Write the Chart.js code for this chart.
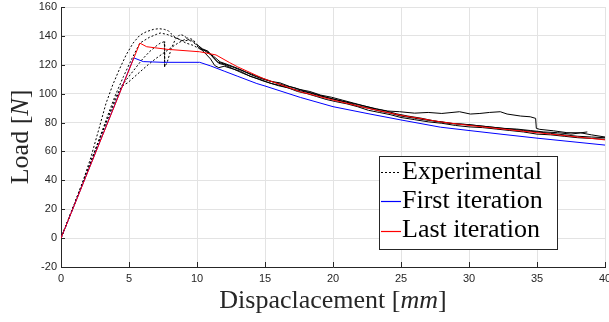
<!DOCTYPE html>
<html>
<head>
<meta charset="utf-8">
<script src="https://cdn.jsdelivr.net/npm/chart.js@4.4.0/dist/chart.umd.min.js"></script>
<style>
  html, body { margin: 0; padding: 0; background: #fff; }
  #wrap { width: 609px; height: 322px; }
</style>
</head>
<body>
<div id="wrap"><canvas id="loadChart" width="609" height="322"></canvas></div>
<script>
// tick values
const xTickValues = [0, 5, 10, 15, 20, 25, 30, 35, 40]
const yTickValues = [-20, 0, 20, 40, 60, 80, 100, 120, 140, 160]

// first iteration (blue)
const firstDisp = [0, 5.35, 6.05, 7.5, 10.2, 11, 12, 13, 14.4, 15, 17.6, 20, 22.5, 25, 27.9, 30, 32.5, 35, 37.5, 40]
const firstLoad = [0, 124.8, 122.2, 121.7, 121.7, 119.2, 115.6, 112, 107, 105.3, 97.4, 91, 86.3, 81.8, 76.8, 74.5, 71.8, 69.2, 66.8, 64.4]

// last iteration (red)
const lastDisp = [0, 5.8, 6.3, 7.8, 10.2, 11.4, 12.4, 13, 14.85, 17.6, 20, 22.5, 25, 27.9, 30, 32.5, 35, 37.5, 40]
const lastLoad = [0, 135, 132.5, 130.7, 129, 126.8, 121.5, 118.5, 110.6, 101.3, 95.6, 90, 85, 80.5, 78, 75.5, 73, 70.5, 68]

// experimental specimens (black dotted)
const exp1Disp = [0, 0.8, 1.6, 2.2, 2.8, 3.3, 3.8, 4.3, 4.8, 5.3, 5.8, 6.3, 6.8, 7.2, 7.6, 7.9, 8.1, 8.4, 8.8, 9.2, 9.7, 10.2, 10.7, 11.2, 11.7, 12.3, 13, 13.6, 14.3, 15, 15.8, 16.5, 17.2, 18, 18.8, 19.5, 20.3, 21, 21.8, 22.6, 23.4, 24.2, 25, 26, 27, 28, 29, 30, 31, 32, 33, 34, 35, 36, 37, 38, 39, 40]
const exp1Load = [0, 19, 39, 56, 76, 93, 106, 117, 127, 135, 140.5, 143, 144.5, 145, 144.5, 143.5, 141.5, 139, 137, 135, 133.5, 131, 129.5, 126, 122, 120, 117.5, 115, 112.5, 110, 107.5, 105.5, 104, 101.5, 99.5, 97.5, 95.5, 94, 91.5, 90, 88, 86.5, 84.5, 83, 81.5, 80.5, 79, 78.5, 77.5, 76.5, 75.5, 74.5, 73.5, 72.5, 71.5, 70.5, 70, 69.5]

const exp2Disp = [0, 1, 2, 2.8, 3.4, 4, 4.6, 5.2, 5.8, 6.5, 7, 7.3, 7.8, 8.2, 8.6, 9, 9.4, 9.8, 10.2, 10.6, 11, 11.5, 12, 12.6, 13.3, 14, 14.7, 15.4, 16.1, 16.8, 17.5, 18.3, 19.1, 19.9, 20.7, 21.5, 22.3, 23.1, 23.9, 24.7, 25.5, 26.5, 27.5, 28.5, 29.5, 30.5, 31.5, 32.5, 33.5, 34.5, 35.5, 36.5, 37.5, 38.7]
const exp2Load = [0, 24, 48, 68, 84, 99, 112, 124, 135, 139, 141, 142, 141, 139.5, 138, 136.5, 137, 135.5, 132, 129.5, 127, 122, 120.5, 118.5, 116, 113, 110.5, 108.5, 107.5, 105, 103, 101.5, 99, 97.5, 95.5, 93.5, 91.5, 89.5, 88, 86, 84.5, 83, 81, 79.5, 79, 78, 77, 76, 75.5, 74.5, 73.5, 73, 72, 73.5]

const exp3Disp = [0, 1, 2, 3, 4, 4.5, 5, 5.5, 6, 6.5, 7, 7.3, 7.6, 7.62, 7.8, 8.1, 8.4, 8.75, 9.1, 9.3, 9.6, 10, 10.5, 11, 11.3, 11.6, 12, 12.5, 13.2, 13.9, 14.6, 15.3, 16, 16.7, 17.4, 18.1, 18.8, 19.5, 20.2, 21, 21.8, 22.6, 23.4, 24.2, 25, 26, 27, 28, 29, 30, 31, 32, 33, 34, 35, 36, 37, 38, 39, 40]
const exp3Load = [0, 23.5, 47.5, 72, 97, 106, 112, 118, 124, 129, 133, 135, 136, 118.5, 121.5, 131, 137.5, 141, 140, 137.5, 137, 133, 129, 124, 119.5, 118, 119, 117.5, 115.5, 112, 110, 107.5, 105.5, 104, 101.5, 100, 98, 96, 94.5, 93, 91, 88.5, 87, 85.5, 83.5, 82, 80.5, 79.5, 78, 77, 76.5, 75.5, 74.5, 73.5, 72, 71.5, 70.5, 69.5, 69, 68.5]

const exp4Disp = [0, 1, 2, 3, 4.3, 4.6, 4.9, 5.2, 5.8, 6.4, 7, 7.6, 8.2, 8.6, 9, 9.3, 9.7, 10, 10.4, 10.8, 11.2, 11.6, 12, 12.7, 13.4, 14.1, 14.8, 15.5, 16.2, 16.9, 17.6, 18.3, 19, 19.7, 20.4, 21.1, 21.8, 22.5, 23.2, 24, 24.9, 26, 27, 28, 29.3, 30.1, 30.8, 31.5, 32.3, 32.8, 33.8, 34.5, 34.9, 34.95, 35.2, 36.2, 37.2, 38.2, 39, 40]
const exp4Load = [0, 24, 48.5, 73, 102, 106, 107.5, 110, 115, 120, 124.5, 128.5, 132.5, 135, 137, 138.5, 137.5, 134, 131, 129.5, 125, 121, 120, 117, 114, 111.5, 109, 107, 105.5, 103.5, 102, 100.5, 98.5, 97, 95.5, 94, 92.5, 91, 89.5, 88, 87.5, 86.5, 87, 86.3, 87.5, 85.9, 86.3, 87, 87.5, 85.9, 84.5, 84, 82.9, 76, 75.3, 74.3, 73, 72.9, 71.5, 70]

const legendLabels = ['Experimental', 'First iteration', 'Last iteration']

const AXIS_COLOR = '#262626'
const SERIF = '"Liberation Serif", "Times New Roman", serif'

function toPoints(xs, ys) {
  return xs.map((x, i) => ({ x: x, y: ys[i] }))
}

function expDataset(xs, ys) {
  return {
    data: toPoints(xs, ys),
    borderColor: '#000',
    borderWidth: 1,
    borderDash: [],
    pointRadius: 0,
    tension: 0,
    // dotted on the loading part, dense noisy data looks solid later on
    segment: {
      borderDash: c => (c.p0.parsed.x < 10 ? [2, 2] : undefined)
    }
  }
}

// draws text pieces with mixed upright / italic fonts, centred on x=0
function drawMixed(ctx, parts, size) {
  let total = 0
  parts.forEach(p => {
    ctx.font = (p.italic ? 'italic ' : '') + size + 'px ' + SERIF
    p.w = ctx.measureText(p.text).width
    total += p.w
  })
  let x = -total / 2
  parts.forEach(p => {
    ctx.font = (p.italic ? 'italic ' : '') + size + 'px ' + SERIF
    ctx.fillText(p.text, x, 0)
    x += p.w
  })
}

const decorations = {
  id: 'decorations',
  afterDatasetsDraw(chart) {
    const ctx = chart.ctx
    const xs = chart.scales.x
    const ys = chart.scales.y
    const area = chart.chartArea

    // inward tick marks
    ctx.save()
    ctx.strokeStyle = AXIS_COLOR
    ctx.lineWidth = 1
    ctx.beginPath()
    xTickValues.forEach(v => {
      const px = Math.round(xs.getPixelForValue(v)) + 0.5
      ctx.moveTo(px, area.bottom)
      ctx.lineTo(px, area.bottom - 5)
    })
    yTickValues.forEach(v => {
      const py = Math.round(ys.getPixelForValue(v)) + 0.5
      ctx.moveTo(area.left, py)
      ctx.lineTo(area.left + 4, py)
    })
    ctx.stroke()
    ctx.restore()

    // legend box
    const box = { left: 379.5, top: 156.5, width: 178, height: 93 }
    ctx.save()
    ctx.fillStyle = '#fff'
    ctx.fillRect(box.left, box.top, box.width, box.height)
    ctx.strokeStyle = AXIS_COLOR
    ctx.lineWidth = 1
    ctx.strokeRect(box.left, box.top, box.width, box.height)

    const sampleStyles = [
      { color: '#000000', dash: [2, 2] },
      { color: '#0000ff', dash: [] },
      { color: '#ff0000', dash: [] }
    ]
    const baselines = [178.5, 207.5, 237]
    ctx.font = '26px ' + SERIF
    ctx.textBaseline = 'alphabetic'
    legendLabels.forEach((label, i) => {
      const yMid = Math.round(baselines[i] - 6.5) + 0.5
      ctx.save()
      ctx.lineWidth = 1.2
      ctx.strokeStyle = sampleStyles[i].color
      ctx.setLineDash(sampleStyles[i].dash)
      ctx.beginPath()
      ctx.moveTo(381, yMid)
      ctx.lineTo(401, yMid)
      ctx.stroke()
      ctx.restore()
      ctx.fillStyle = '#000'
      ctx.fillText(label, 402, baselines[i])
    })
    ctx.restore()

    // axis titles
    ctx.save()
    ctx.fillStyle = AXIS_COLOR
    ctx.textBaseline = 'alphabetic'
    ctx.translate((area.left + area.right) / 2, 308)
    drawMixed(ctx, [
      { text: 'Dispaclacement [', italic: false },
      { text: 'mm', italic: true },
      { text: ']', italic: false }
    ], 26)
    ctx.restore()

    ctx.save()
    ctx.fillStyle = AXIS_COLOR
    ctx.textBaseline = 'alphabetic'
    ctx.translate(28, (area.top + area.bottom) / 2)
    ctx.rotate(-Math.PI / 2)
    drawMixed(ctx, [
      { text: 'Load [', italic: false },
      { text: 'N', italic: true },
      { text: ']', italic: false }
    ], 26)
    ctx.restore()
  }
}

function fixScale(scale, size, horizontal) {
  if (horizontal) scale.height = size
  else scale.width = size
  scale.paddingLeft = 0
  scale.paddingRight = 0
  scale.paddingTop = 0
  scale.paddingBottom = 0
}

const tickFont = { family: '"Liberation Sans", Arial, Helvetica, sans-serif', size: 11 }

new Chart(document.getElementById('loadChart'), {
  type: 'line',
  data: {
    datasets: [
      {
        data: toPoints(lastDisp, lastLoad),
        borderColor: '#ff0000',
        borderWidth: 1,
        pointRadius: 0,
        tension: 0
      },
      {
        data: toPoints(firstDisp, firstLoad),
        borderColor: '#0000ff',
        borderWidth: 1,
        pointRadius: 0,
        tension: 0
      },
      expDataset(exp1Disp, exp1Load),
      expDataset(exp2Disp, exp2Load),
      expDataset(exp3Disp, exp3Load),
      expDataset(exp4Disp, exp4Load)
    ]
  },
  options: {
    responsive: false,
    animation: false,
    devicePixelRatio: 1,
    layout: { padding: { left: 0, top: 7, right: 4, bottom: 0 } },
    plugins: {
      legend: { display: false },
      tooltip: { enabled: false }
    },
    scales: {
      x: {
        type: 'linear',
        min: 0,
        max: 40,
        afterBuildTicks: s => { s.ticks = xTickValues.map(v => ({ value: v })) },
        afterFit: s => fixScale(s, 55, true),
        grid: { color: '#e3e3e3', lineWidth: 1, drawTicks: false },
        border: { color: AXIS_COLOR, width: 1 },
        ticks: { font: tickFont, color: AXIS_COLOR, padding: 5, maxRotation: 0, autoSkip: false }
      },
      y: {
        type: 'linear',
        min: -20,
        max: 160,
        afterBuildTicks: s => { s.ticks = yTickValues.map(v => ({ value: v })) },
        afterFit: s => fixScale(s, 61, false),
        grid: { color: '#e3e3e3', lineWidth: 1, drawTicks: false },
        border: { color: AXIS_COLOR, width: 1 },
        ticks: { font: tickFont, color: AXIS_COLOR, padding: 4, autoSkip: false }
      }
    }
  },
  plugins: [decorations]
})
</script>
</body>
</html>
